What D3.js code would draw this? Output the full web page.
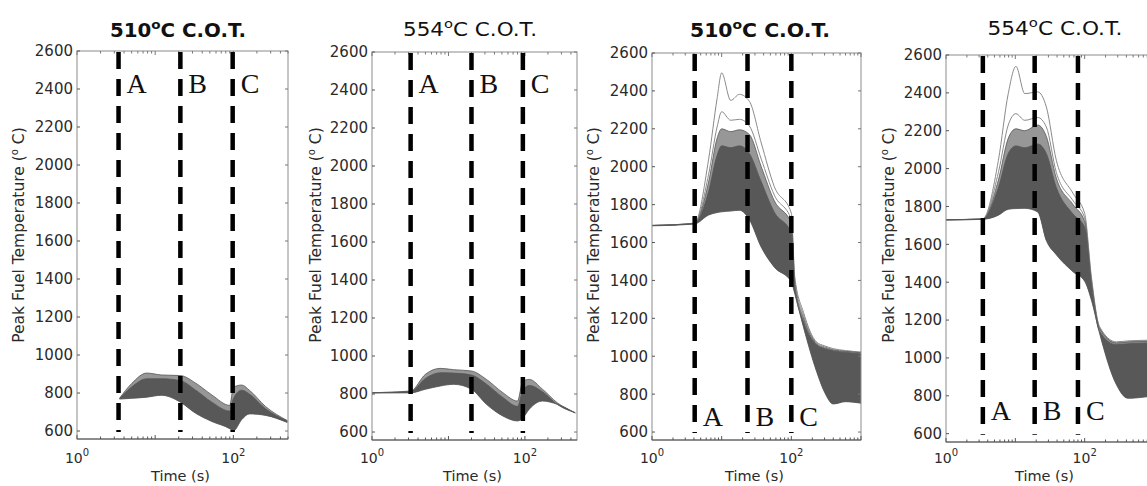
<!doctype html>
<html>
<head>
<meta charset="UTF-8">
<title>Peak fuel temperature</title>
<script src="https://d3js.org/d3.v7.min.js"></script>
<style>
  body { margin: 0; background: #fff; }
  svg { display: block; }
</style>
</head>
<body>
<script>
// values
var yTicks = [600, 800, 1000, 1200, 1400, 1600, 1800, 2000, 2200, 2400, 2600];
var xLabelTicks = [1, 100];
var titleTemps = ["510", "554", "510", "554"];
var markerNames = ["A", "B", "C"];

// panel 1 : 510 C, low band
var p1Markers = [3.4, 21, 98];
var p1Time   = [3.5, 5, 7.8, 12, 21, 33, 53, 90, 100, 128, 160, 260, 490];
var p1Top    = [772, 850, 905, 895, 892, 852, 790, 735, 830, 842, 815, 728, 655];
var p1Core   = [771, 832, 875, 875, 865, 815, 752, 705, 770, 815, 795, 716, 653];
var p1Bottom = [768, 772, 778, 788, 752, 693, 650, 612, 600, 660, 690, 682, 645];

// panel 2 : 554 C, low band
var p2Markers = [3.2, 20, 94];
var p2Time   = [1, 3.2, 5, 7.8, 11.7, 20, 31.4, 51.5, 80, 94, 114, 170, 265, 455];
var p2Top    = [807, 816, 904, 935, 928, 921, 877, 807, 763, 868, 877, 825, 754, 702];
var p2Core   = [807, 813, 882, 912, 910, 900, 852, 782, 735, 820, 845, 812, 745, 701];
var p2Bottom = [805, 806, 825, 842, 851, 825, 746, 684, 658, 675, 720, 763, 746, 700];

// panel 3 : 510 C, high band
var p3Markers = [4.1, 23.5, 100];
var p3Time   = [1, 4.1, 6.5, 8.6, 10, 13.5, 18, 25, 37, 57, 100, 112, 150, 230, 300, 400, 600, 1000];
var p3Peak   = [1690, 1702, 2040, 2360, 2495, 2350, 2382, 2345, 2125, 1895, 1755, 1420, 1230, 1075, 1055, 1040, 1030, 1022];
var p3Second = [1690, 1702, 1960, 2210, 2290, 2245, 2250, 2215, 2040, 1850, 1720, 1400, 1215, 1070, 1050, 1035, 1027, 1020];
var p3Third  = [1690, 1701, 1920, 2150, 2200, 2185, 2195, 2170, 2000, 1820, 1700, 1380, 1200, 1065, 1045, 1032, 1025, 1018];
var p3Core   = [1690, 1700, 1870, 2060, 2110, 2100, 2110, 2070, 1920, 1760, 1650, 1360, 1180, 1060, 1040, 1028, 1020, 1012];
var p3Bottom = [1688, 1698, 1745, 1758, 1762, 1766, 1770, 1720, 1575, 1470, 1392, 1330, 1150, 920, 810, 748, 760, 752];

// panel 4 : 554 C, high band
var p4Markers = [3.4, 19, 80];
var p4Time   = [1, 3.4, 5.7, 7.9, 10.2, 13.7, 21, 28, 39, 68, 100, 125, 164, 286, 420, 1000];
var p4Peak   = [1730, 1735, 2044, 2396, 2540, 2396, 2405, 2326, 2044, 1869, 1763, 1428, 1165, 1085, 1090, 1094];
var p4Second = [1730, 1734, 1980, 2230, 2290, 2255, 2270, 2220, 1980, 1830, 1740, 1415, 1160, 1080, 1086, 1090];
var p4Third  = [1730, 1733, 1940, 2160, 2210, 2200, 2230, 2170, 1950, 1810, 1720, 1400, 1155, 1078, 1083, 1088];
var p4Core   = [1730, 1733, 1900, 2080, 2120, 2110, 2130, 2080, 1900, 1760, 1690, 1380, 1140, 1070, 1075, 1080];
var p4Bottom = [1728, 1732, 1754, 1785, 1789, 1790, 1771, 1620, 1545, 1455, 1405, 1306, 1130, 860, 787, 800];

var panels = [
  {box: [77, 51, 288, 439], xMax: 500, yMin: 558, bold: true, titleX: 178, titleY: 37, titleW: 136, yLabX: 24,
   letterY: 93, markers: p1Markers, time: p1Time, top: p1Top, core: p1Core, bottom: p1Bottom, extra: []},
  {box: [372, 52, 577, 440], xMax: 480, yMin: 558, bold: false, titleX: 470, titleY: 36, titleW: 134, yLabX: 321,
   letterY: 93, markers: p2Markers, time: p2Time, top: p2Top, core: p2Core, bottom: p2Bottom, extra: []},
  {box: [652, 53, 861, 440], xMax: 1000, yMin: 558, bold: true, titleX: 760, titleY: 37, titleW: 140, yLabX: 599,
   letterY: 426, markers: p3Markers, time: p3Time, top: p3Third, core: p3Core, bottom: p3Bottom, extra: [p3Peak, p3Second]},
  {box: [946, 55, 1154, 442], xMax: 1000, yMin: 556, bold: false, titleX: 1055, titleY: 35, titleW: 135, yLabX: 894,
   letterY: 420, markers: p4Markers, time: p4Time, top: p4Third, core: p4Core, bottom: p4Bottom, extra: [p4Peak, p4Second]}
];

var svg = d3.select("body").append("svg")
  .attr("width", 1147)
  .attr("height", 486);

var sans = "DejaVu Sans, Arial, sans-serif";

panels.forEach(function(p, k) {
  var x0 = p.box[0], y0 = p.box[1], x1 = p.box[2], y1 = p.box[3];
  var x = d3.scaleLog().domain([1, p.xMax]).range([x0, x1]);
  var y = d3.scaleLinear().domain([p.yMin, 2600]).range([y1, y0]);

  var g = svg.append("g");
  var clipId = "clip" + k;
  svg.append("clipPath").attr("id", clipId)
    .append("rect").attr("x", x0).attr("y", y0).attr("width", x1 - x0).attr("height", y1 - y0);

  var plot = g.append("g").attr("clip-path", "url(#" + clipId + ")");

  var idx = d3.range(p.time.length);
  var band = d3.area()
    .x(function(i) { return x(p.time[i]); })
    .y0(function(i) { return y(p.bottom[i]); })
    .y1(function(i) { return y(p.top[i]); })
    .curve(d3.curveMonotoneX);
  var core = d3.area()
    .x(function(i) { return x(p.time[i]); })
    .y0(function(i) { return y(p.bottom[i]); })
    .y1(function(i) { return y(p.core[i]); })
    .curve(d3.curveMonotoneX);
  var lineOf = function(arr) {
    return d3.line()
      .x(function(i) { return x(p.time[i]); })
      .y(function(i) { return y(arr[i]); })
      .curve(d3.curveMonotoneX);
  };

  plot.append("path").attr("d", band(idx)).attr("fill", "#979797");
  plot.append("path").attr("d", core(idx)).attr("fill", "#585858");

  p.extra.forEach(function(arr) {
    plot.append("path").attr("d", lineOf(arr)(idx))
      .attr("fill", "none").attr("stroke", "#8a8a8a").attr("stroke-width", 1);
  });
  [p.top, p.core, p.bottom].forEach(function(arr) {
    plot.append("path").attr("d", lineOf(arr)(idx))
      .attr("fill", "none").attr("stroke", "#555").attr("stroke-width", 0.8);
  });

  // box
  g.append("rect").attr("x", x0).attr("y", y0).attr("width", x1 - x0).attr("height", y1 - y0)
    .attr("fill", "none").attr("stroke", "#8c8c8c").attr("stroke-width", 1);
  g.append("line").attr("x1", x0).attr("x2", x1).attr("y1", y1).attr("y2", y1)
    .attr("stroke", "#555").attr("stroke-width", 1.2);

  // y ticks, left and right, pointing inward
  yTicks.forEach(function(v) {
    g.append("line").attr("x1", x0).attr("x2", x0 + 3).attr("y1", y(v)).attr("y2", y(v)).attr("stroke", "#555");
    g.append("line").attr("x1", x1 - 3).attr("x2", x1).attr("y1", y(v)).attr("y2", y(v)).attr("stroke", "#777");
    g.append("text").attr("x", x0 - 4).attr("y", y(v)).attr("dy", "0.36em")
      .attr("text-anchor", "end").attr("font-family", sans).attr("font-size", 15).attr("fill", "#2a2a2a")
      .text(v);
  });

  // log minor ticks top and bottom
  var minor = [];
  [1, 10, 100].forEach(function(d) {
    for (var m = 1; m < 10; m++) if (d * m <= p.xMax) minor.push(d * m);
  });
  if (p.xMax >= 1000) minor.push(1000);
  minor.forEach(function(v) {
    var len = (Math.log10(v) % 1 === 0) ? 4 : 2.5;
    g.append("line").attr("x1", x(v)).attr("x2", x(v)).attr("y1", y1).attr("y2", y1 - len).attr("stroke", "#555");
    g.append("line").attr("x1", x(v)).attr("x2", x(v)).attr("y1", y0).attr("y2", y0 + len).attr("stroke", "#777");
  });

  xLabelTicks.forEach(function(v) {
    var t = g.append("text").attr("x", x(v)).attr("y", 463).attr("text-anchor", "middle")
      .attr("font-family", sans).attr("font-size", 14).attr("fill", "#2a2a2a");
    t.append("tspan").text("10");
    t.append("tspan").attr("dy", -7).attr("font-size", 10).text(String(Math.round(Math.log10(v))));
  });

  // dashed phase markers
  p.markers.forEach(function(m, j) {
    g.append("line").attr("x1", x(m)).attr("x2", x(m)).attr("y1", y0 + 1).attr("y2", y(600) + 1)
      .attr("stroke", "#000").attr("stroke-width", 4.5).attr("stroke-dasharray", "17,10");
    g.append("text").attr("x", x(m) + 8).attr("y", p.letterY)
      .attr("font-family", "Liberation Serif, Times New Roman, serif").attr("font-size", 28)
      .attr("fill", "#111").text(markerNames[j]);
  });

  // title
  var tt = svg.append("text").attr("x", p.titleX).attr("y", p.titleY).attr("text-anchor", "middle")
    .attr("font-family", sans).attr("font-size", 19).attr("font-weight", p.bold ? "bold" : "normal")
    .attr("fill", "#111")
    .attr("textLength", p.titleW).attr("lengthAdjust", "spacingAndGlyphs");
  tt.append("tspan").text(titleTemps[k]);
  tt.append("tspan").attr("dy", -8).attr("font-size", 13).text("o");
  tt.append("tspan").attr("dy", 8).text("C C.O.T.");

  // axis labels
  var yl = svg.append("text")
    .attr("transform", "translate(" + p.yLabX + "," + 235 + ") rotate(-90)")
    .attr("text-anchor", "middle").attr("font-family", sans).attr("font-size", 15.5).attr("fill", "#2a2a2a");
  yl.append("tspan").text("Peak Fuel Temperature (");
  yl.append("tspan").attr("dy", -6).attr("font-size", 10).text("o");
  yl.append("tspan").attr("dy", 6).text(" C)");

  svg.append("text").attr("x", (x0 + Math.min(x1, 1147)) / 2 - 2).attr("y", 481)
    .attr("text-anchor", "middle").attr("font-family", sans).attr("font-size", 14.5).attr("fill", "#2a2a2a")
    .text("Time (s)");
});
</script>
</body>
</html>
